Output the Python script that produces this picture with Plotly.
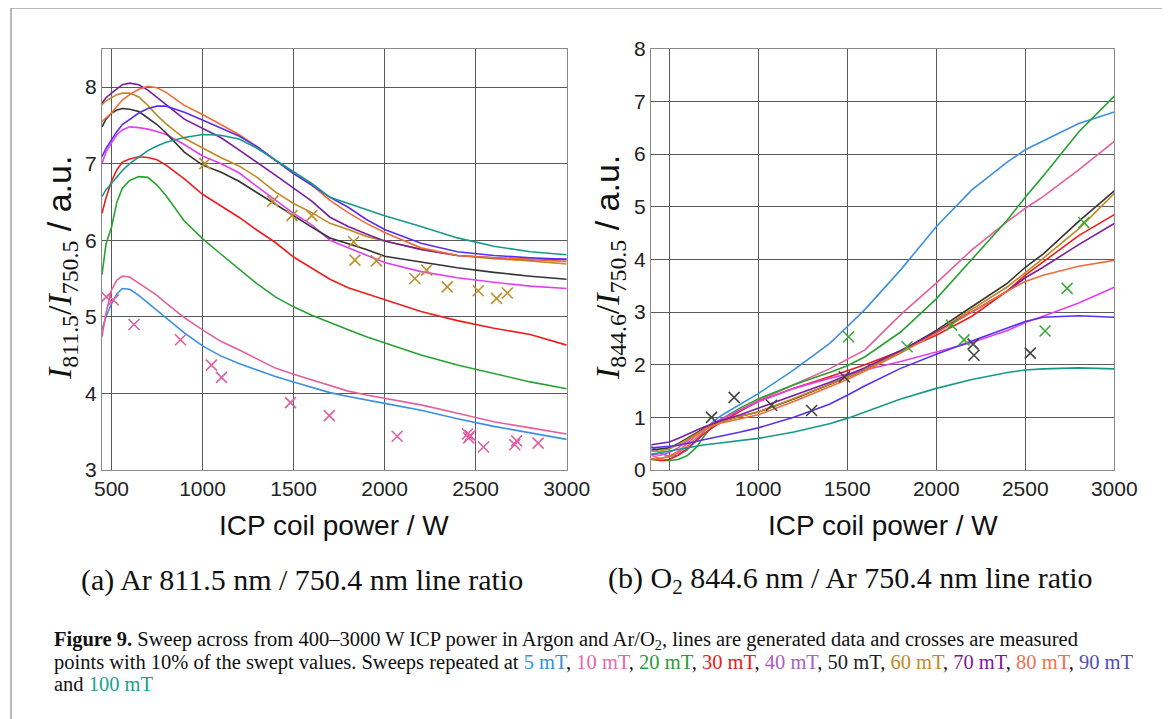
import plotly.graph_objects as go

W, H = 1170, 719
OFF = 8  # page body margin offset

# ---------------- data: panel (a) Ar 811.5/750.4 ----------------
xa = [448, 470, 500, 530, 560, 600, 650, 700, 750, 800, 900, 1000, 1100, 1200, 1300,
      1400, 1500, 1600, 1700, 1800, 1900, 2000, 2200, 2400, 2600, 2800, 3000]
a_5 = [4.83, 5.00, 5.17, 5.30, 5.37, 5.36, 5.28, 5.18, 5.09, 4.99, 4.79, 4.62, 4.49, 4.39, 4.30,
       4.22, 4.15, 4.08, 4.01, 3.96, 3.91, 3.87, 3.78, 3.67, 3.57, 3.49, 3.40]
a_10 = [4.74, 5.05, 5.35, 5.48, 5.53, 5.52, 5.44, 5.36, 5.28, 5.18, 4.99, 4.83, 4.68, 4.57, 4.45,
        4.33, 4.25, 4.18, 4.11, 4.03, 3.98, 3.94, 3.85, 3.74, 3.63, 3.55, 3.47]
a_20 = [5.55, 5.95, 6.17, 6.50, 6.68, 6.78, 6.83, 6.82, 6.72, 6.58, 6.25, 6.02, 5.82, 5.63, 5.43,
        5.26, 5.13, 5.02, 4.92, 4.83, 4.74, 4.66, 4.50, 4.37, 4.26, 4.15, 4.06]
a_30 = [6.35, 6.55, 6.77, 6.92, 7.02, 7.06, 7.09, 7.08, 7.05, 6.98, 6.80, 6.60, 6.45, 6.30, 6.13,
        5.97, 5.78, 5.63, 5.49, 5.38, 5.30, 5.22, 5.07, 4.95, 4.85, 4.77, 4.63]
a_40 = [7.00, 7.15, 7.27, 7.38, 7.44, 7.48, 7.47, 7.45, 7.42, 7.38, 7.25, 7.10, 7.00, 6.88, 6.70,
        6.52, 6.35, 6.20, 6.00, 5.90, 5.80, 5.71, 5.59, 5.51, 5.45, 5.40, 5.37]
a_50 = [7.48, 7.58, 7.66, 7.70, 7.72, 7.71, 7.68, 7.60, 7.51, 7.40, 7.15, 6.98, 6.89, 6.77, 6.62,
        6.47, 6.31, 6.17, 6.03, 5.96, 5.88, 5.79, 5.71, 5.64, 5.58, 5.53, 5.49]
a_60 = [7.77, 7.82, 7.86, 7.90, 7.92, 7.92, 7.87, 7.76, 7.63, 7.52, 7.33, 7.20, 7.08, 6.97, 6.82,
        6.63, 6.48, 6.36, 6.22, 6.14, 6.05, 5.99, 5.88, 5.80, 5.76, 5.73, 5.69]
a_70 = [7.79, 7.86, 7.92, 7.98, 8.03, 8.05, 8.03, 7.96, 7.87, 7.77, 7.58, 7.46, 7.34, 7.18, 7.02,
        6.85, 6.68, 6.51, 6.30, 6.18, 6.08, 5.99, 5.88, 5.80, 5.77, 5.75, 5.75]
a_80 = [7.55, 7.60, 7.66, 7.75, 7.83, 7.90, 7.97, 8.01, 7.99, 7.93, 7.76, 7.64, 7.51, 7.38, 7.22,
        7.05, 6.87, 6.72, 6.52, 6.36, 6.22, 6.10, 5.90, 5.80, 5.77, 5.75, 5.72]
a_90 = [7.09, 7.20, 7.31, 7.42, 7.51, 7.58, 7.66, 7.72, 7.75, 7.75, 7.67, 7.57, 7.47, 7.36, 7.22,
        7.05, 6.87, 6.72, 6.56, 6.43, 6.27, 6.14, 5.96, 5.85, 5.80, 5.77, 5.75]
a_100 = [6.57, 6.66, 6.74, 6.83, 6.91, 7.00, 7.09, 7.17, 7.23, 7.28, 7.34, 7.38, 7.37, 7.32, 7.20,
         7.05, 6.90, 6.74, 6.56, 6.48, 6.40, 6.32, 6.18, 6.03, 5.92, 5.85, 5.81]

# measured crosses, panel (a)
a_m10_x = [472, 510, 624, 879, 1049, 1104, 1483, 1696, 2069, 2455, 2470, 2462, 2543, 2715, 2725, 2843]
a_m10_y = [5.26, 5.22, 4.90, 4.70, 4.37, 4.21, 3.88, 3.71, 3.44, 3.47, 3.45, 3.42, 3.30, 3.33, 3.38, 3.35]
a_m60_x = [1013, 1386, 1491, 1600, 1830, 1837, 1955, 2166, 2231, 2344, 2514, 2615, 2674]
a_m60_y = [7.00, 6.51, 6.32, 6.32, 5.98, 5.74, 5.73, 5.50, 5.61, 5.39, 5.34, 5.24, 5.31]

# ---------------- data: panel (b) O2 844.6 / Ar 750.4 ----------------
xb = [400, 450, 500, 550, 600, 650, 700, 750, 800, 900, 1000, 1200, 1400, 1500, 1600,
      1800, 2000, 2200, 2400, 2500, 2600, 2800, 3000]
b_5 = [0.45, 0.32, 0.26, 0.28, 0.38, 0.55, 0.75, 0.93, 1.05, 1.25, 1.45, 1.90, 2.40, 2.72, 3.05,
       3.80, 4.62, 5.32, 5.85, 6.08, 6.25, 6.58, 6.80]
b_10 = [0.28, 0.22, 0.25, 0.32, 0.45, 0.60, 0.75, 0.88, 0.97, 1.15, 1.32, 1.62, 1.92, 2.10, 2.28,
        2.95, 3.55, 4.18, 4.72, 4.97, 5.19, 5.70, 6.24]
b_20 = [0.20, 0.18, 0.18, 0.20, 0.27, 0.42, 0.66, 0.86, 0.98, 1.18, 1.35, 1.62, 1.85, 1.98, 2.15,
        2.62, 3.25, 4.00, 4.75, 5.18, 5.58, 6.42, 7.10]
b_30 = [0.22, 0.18, 0.20, 0.28, 0.40, 0.55, 0.70, 0.82, 0.92, 1.12, 1.30, 1.55, 1.77, 1.88, 2.00,
        2.26, 2.56, 2.92, 3.40, 3.70, 3.95, 4.45, 4.85]
b_40 = [0.30, 0.28, 0.33, 0.42, 0.55, 0.68, 0.80, 0.90, 0.98, 1.15, 1.30, 1.55, 1.74, 1.82, 1.90,
        2.06, 2.24, 2.42, 2.65, 2.80, 2.92, 3.17, 3.47]
b_50 = [0.38, 0.40, 0.42, 0.50, 0.60, 0.70, 0.80, 0.87, 0.93, 1.02, 1.10, 1.35, 1.62, 1.76, 1.90,
        2.25, 2.65, 3.10, 3.55, 3.85, 4.10, 4.72, 5.30]
b_60 = [0.35, 0.36, 0.40, 0.48, 0.58, 0.68, 0.78, 0.86, 0.92, 1.02, 1.10, 1.36, 1.62, 1.76, 1.90,
        2.25, 2.62, 3.05, 3.48, 3.75, 4.02, 4.58, 5.25]
b_70 = [0.48, 0.50, 0.53, 0.60, 0.68, 0.75, 0.82, 0.88, 0.95, 1.05, 1.17, 1.42, 1.66, 1.80, 1.94,
        2.27, 2.62, 3.00, 3.40, 3.65, 3.85, 4.28, 4.68]
b_80 = [0.20, 0.22, 0.26, 0.35, 0.50, 0.65, 0.78, 0.85, 0.90, 0.97, 1.05, 1.30, 1.57, 1.72, 1.88,
        2.22, 2.60, 3.00, 3.40, 3.58, 3.70, 3.87, 3.98]
b_90 = [0.42, 0.43, 0.45, 0.47, 0.50, 0.54, 0.58, 0.62, 0.65, 0.72, 0.80, 1.00, 1.25, 1.42, 1.60,
        1.93, 2.20, 2.45, 2.70, 2.82, 2.90, 2.93, 2.90]
b_100 = [0.30, 0.33, 0.37, 0.40, 0.42, 0.45, 0.48, 0.50, 0.52, 0.56, 0.60, 0.72, 0.88, 0.98, 1.10,
         1.35, 1.55, 1.72, 1.85, 1.90, 1.92, 1.94, 1.92]

b_m50_x = [738, 865, 1075, 1300, 1484, 2207, 2212, 2528]
b_m50_y = [1.00, 1.38, 1.23, 1.13, 1.77, 2.39, 2.18, 2.22]
b_m20_x = [1508, 1836, 2086, 2156, 2611, 2735, 2829]
b_m20_y = [2.53, 2.34, 2.75, 2.47, 2.64, 3.45, 4.70]

labels = ["5 mT", "10 mT", "20 mT", "30 mT", "40 mT", "50 mT", "60 mT", "70 mT", "80 mT", "90 mT", "100 mT"]
colors = ["#3d8fe0", "#e2609c", "#27a22f", "#ee1d1d", "#e040ee", "#333333",
          "#c08a22", "#7a1ea0", "#f26b3a", "#5a2ff0", "#17998a"]
cap_colors = ["#3a8fd8", "#e868a8", "#2a9a3a", "#e82020", "#a860c0", "#222222",
              "#c08a28", "#7a2090", "#f07050", "#5050b0", "#20a090"]

series_a = [a_5, a_10, a_20, a_30, a_40, a_50, a_60, a_70, a_80, a_90, a_100]
series_b = [b_5, b_10, b_20, b_30, b_40, b_50, b_60, b_70, b_80, b_90, b_100]

fig = go.Figure()
for lab, col, ya in zip(labels, colors, series_a):
    fig.add_trace(go.Scatter(x=xa, y=ya, mode="lines", name=lab,
                             line=dict(color=col, width=1.6), xaxis="x", yaxis="y",
                             showlegend=False))
for lab, col, yb in zip(labels, colors, series_b):
    fig.add_trace(go.Scatter(x=xb, y=yb, mode="lines", name=lab,
                             line=dict(color=col, width=1.6), xaxis="x2", yaxis="y2",
                             showlegend=False))

def crosses(x, y, col, xa_, ya_):
    return go.Scatter(x=x, y=y, mode="markers", xaxis=xa_, yaxis=ya_, showlegend=False,
                      marker=dict(symbol="x-thin", size=11, line=dict(color=col, width=1.6)))

fig.add_trace(crosses(a_m10_x, a_m10_y, "#e060a2", "x", "y"))
fig.add_trace(crosses(a_m60_x, a_m60_y, "#c0902e", "x", "y"))
fig.add_trace(crosses(b_m50_x, b_m50_y, "#444444", "x2", "y2"))
fig.add_trace(crosses(b_m20_x, b_m20_y, "#3aaa3a", "x2", "y2"))

def px(x):
    return (x - OFF) / W

def py(y):
    return 1 - (y - OFF) / H

axis_common = dict(showline=True, linecolor="#8a8a8a", linewidth=1, mirror=True,
                   showgrid=True, gridcolor="#5a5a5a", gridwidth=1, zeroline=False,
                   automargin=False, ticks="",
                   tickfont=dict(family="Liberation Sans", size=21, color="#222"))

fig.update_layout(
    width=W, height=H, margin=dict(l=0, r=0, t=0, b=0, autoexpand=False),
    paper_bgcolor="white", plot_bgcolor="white",
    xaxis=dict(domain=[px(102), px(566.7)], range=[448, 3000], anchor="y",
               tickvals=[500, 1000, 1500, 2000, 2500, 3000], **axis_common),
    yaxis=dict(domain=[py(470), py(48.7)], range=[3, 8.5], anchor="x",
               tickvals=[3, 4, 5, 6, 7, 8], **axis_common),
    xaxis2=dict(domain=[px(651), px(1114.3)], range=[398, 3000], anchor="y2",
                tickvals=[500, 1000, 1500, 2000, 2500, 3000], **axis_common),
    yaxis2=dict(domain=[py(470), py(48.7)], range=[0, 8], anchor="x2",
                tickvals=[0, 1, 2, 3, 4, 5, 6, 7, 8], **axis_common),
)

serif = "Liberation Serif"
ann = []
def A(text, x, y, size, family, **kw):
    d = dict(text=text, x=px(x), y=py(y), xref="paper", yref="paper", showarrow=False,
             xanchor="center", yanchor="middle",
             font=dict(family=family, size=size, color="#111"))
    d.update(kw)
    ann.append(d)

# axis titles
A("ICP coil power / W", 334, 525, 28, "Liberation Sans")
A("ICP coil power / W", 883, 525, 28, "Liberation Sans")
yt_a = ('<span style="font-family:Liberation Serif"><i>I</i><sub>811.5</sub>/<i>I</i>'
        '<sub>750.5</sub></span> / a.u.')
yt_b = ('<span style="font-family:Liberation Serif"><i>I</i><sub>844.6</sub>/<i>I</i>'
        '<sub>750.5</sub></span> / a.u.')
A(yt_a, 61, 268, 34, "Liberation Sans", textangle=-90)
A(yt_b, 609, 268, 34, "Liberation Sans", textangle=-90)
# sub-captions
A("(a) Ar 811.5 nm / 750.4 nm line ratio", 302, 580, 30, serif)
A("(b) O<sub>2</sub> 844.6 nm / Ar 750.4 nm line ratio", 850, 580, 30, serif)

# figure caption
def c(i):
    return '<span style="color:%s">%s</span>' % (cap_colors[i], labels[i])

line1 = ("<b>Figure 9.</b> Sweep across from 400–3000 W ICP power in Argon and Ar/O<sub>2</sub>, "
         "lines are generated data and crosses are measured")
line2 = ("points with 10% of the swept values. Sweeps repeated at " +
         ", ".join(c(i) for i in range(10)))
line3 = "and " + c(10)
for txt, yy in [(line1, 640), (line2, 662), (line3, 684)]:
    A(txt, 52, yy, 20.5, serif, xanchor="left")
fig.update_layout(annotations=ann)

fig.add_shape(type="rect", xref="paper", yref="paper", x0=px(11), x1=px(1166),
              y0=-0.05, y1=py(8), line=dict(color="#a0a0a0", width=1.5), layer="below")

fig.write_html("out.html")
